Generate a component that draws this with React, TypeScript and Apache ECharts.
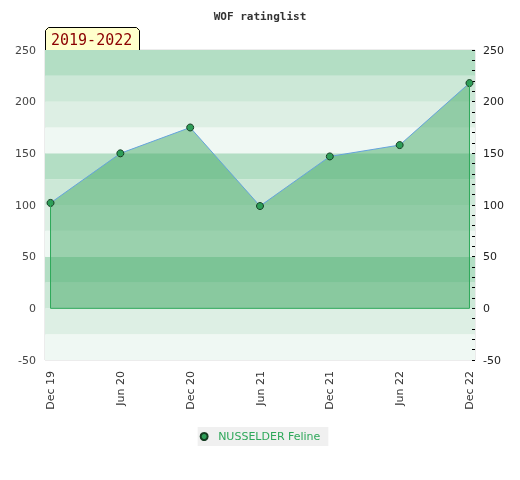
import React, { useEffect, useRef } from "react";
import * as echarts from "echarts";

const categories = ["Dec 19", "Jun 20", "Dec 20", "Jun 21", "Dec 21", "Jun 22", "Dec 22"];
const ratings = [102, 150, 175, 99, 147, 158, 218];
const seriesName = "NUSSELDER Feline";
const periodLabel = "2019-2022";
const bandColors = ["#eff8f3", "#ddefe4", "#cce8d7", "#b3dec4"];

export default function App() {
  const ref = useRef<HTMLDivElement>(null);
  useEffect(() => {
    if (!ref.current) return;
    const chart = echarts.init(ref.current, undefined, { renderer: "svg" });
    const last = ratings.length - 1;
    chart.setOption({
      animation: false,
      textStyle: { fontFamily: "DejaVu Sans" },
      title: {
        text: "WOF ratinglist",
        left: "center",
        top: 6,
        textStyle: { fontFamily: "DejaVu Sans Mono", fontWeight: "bold", fontSize: 11, color: "#333" },
      },
      legend: {
        data: [seriesName],
        top: 427,
        left: "center",
        padding: [4, 8, 4, 2],
        backgroundColor: "#f0f0f0",
        icon: "circle",
        itemWidth: 18,
        itemHeight: 7,
        itemGap: 5,
        textStyle: { color: "#2ea85a", fontSize: 11, fontFamily: "DejaVu Sans" },
      },
      grid: {
        left: 45,
        top: 50,
        width: 430,
        height: 310,
        show: true,
        borderColor: "#d9d9d9",
        borderWidth: 1,
        backgroundColor: "transparent",
      },
      xAxis: {
        type: "value",
        min: -0.079,
        max: last + 0.079,
        axisLine: { show: false },
        axisTick: { show: false },
        splitLine: { show: false },
        axisLabel: {
          customValues: categories.map((_, i) => i),
          formatter: (v: number) => categories[Math.round(v)] ?? "",
          rotate: 90,
          color: "#333",
          fontSize: 11,
          margin: 11,
        },
      },
      yAxis: [
        {
          type: "value",
          min: -50,
          max: 250,
          interval: 25,
          position: "left",
          axisLine: { show: false },
          axisTick: { show: false },
          splitLine: { show: false },
          splitArea: { show: true, areaStyle: { color: bandColors } },
          axisLabel: {
            color: "#444",
            fontSize: 11,
            margin: 9,
            formatter: (v: number) => (v % 50 === 0 ? String(v) : ""),
          },
        },
        {
          type: "value",
          min: -50,
          max: 250,
          interval: 10,
          position: "right",
          axisLine: { show: false },
          axisTick: { show: true, inside: true, length: 3, lineStyle: { color: "#000" } },
          splitLine: { show: false },
          axisLabel: {
            color: "#222",
            fontSize: 11,
            margin: 8,
            formatter: (v: number) => (v % 50 === 0 ? String(v) : ""),
          },
        },
      ],
      series: [
        {
          type: "line",
          name: "outline",
          silent: true,
          symbol: "none",
          data: [
            [0, ratings[0]],
            [0, 0],
            [last, 0],
            [last, ratings[last]],
          ],
          lineStyle: { color: "#2ea85a", width: 1 },
          z: 4,
        },
        {
          type: "line",
          name: seriesName,
          data: ratings.map((v, i) => [i, v]),
          symbol: "circle",
          symbolSize: 7,
          itemStyle: { color: "#2e9e58", borderColor: "#153d22", borderWidth: 1 },
          lineStyle: { color: "#66a3dc", width: 1 },
          areaStyle: { color: "rgba(70,170,104,0.5)", opacity: 1, origin: 0 },
          z: 3,
        },
      ],
      graphic: [
        {
          type: "polygon",
          z: 100,
          shape: { points: [[45, 50], [45, 30], [48, 27], [137, 27], [140, 30], [140, 50]] },
          style: { fill: "#ffffcc", stroke: "none" },
        },
        {
          type: "polyline",
          z: 101,
          shape: { points: [[45.5, 50], [45.5, 30.5], [48.5, 27.5], [136.5, 27.5], [139.5, 30.5], [139.5, 50]] },
          style: { stroke: "#000", lineWidth: 1, fill: null },
        },
        {
          type: "text",
          z: 102,
          x: 51,
          y: 40,
          style: {
            text: periodLabel,
            fontFamily: "DejaVu Sans Mono",
            fontSize: 15,
            fill: "#8b0000",
            verticalAlign: "middle",
          },
        },
      ],
    });
    return () => chart.dispose();
  }, []);
  return <div ref={ref} style={{ position: "fixed", left: 0, top: 0, width: 520, height: 480 }} />;
}
